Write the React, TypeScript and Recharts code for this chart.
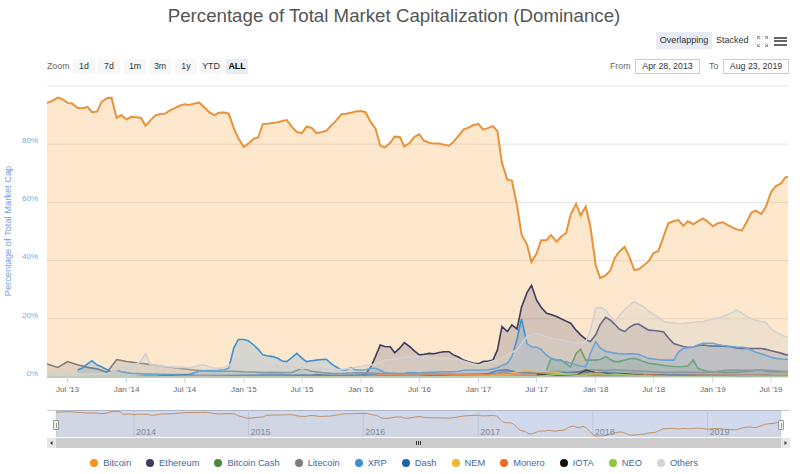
import React from "react";
import { Area, CartesianGrid, ComposedChart, XAxis, YAxis } from "recharts";

const FONT = '"Liberation Sans", Arial, Helvetica, sans-serif';

const firstDay = "2013-04-28";
const lastDay = "2019-08-23";

const axisTickDates = [
  "2013-07-01", "2014-01-01", "2014-07-01", "2015-01-01", "2015-07-01",
  "2016-01-01", "2016-07-01", "2017-01-01", "2017-07-01", "2018-01-01",
  "2018-07-01", "2019-01-01", "2019-07-01",
];
const axisTickLabels = [
  "Jul '13", "Jan '14", "Jul '14", "Jan '15", "Jul '15", "Jan '16", "Jul '16",
  "Jan '17", "Jul '17", "Jan '18", "Jul '18", "Jan '19", "Jul '19",
];
const navTickDates = ["2014-01-01", "2015-01-01", "2016-01-01", "2017-01-01", "2018-01-01", "2019-01-01"];
const navTickLabels = ["2014", "2015", "2016", "2017", "2018", "2019"];
const yTicks = [0, 20, 40, 60, 80, 100];
const zoomButtons = ["1d", "7d", "1m", "3m", "1y", "YTD", "ALL"];

// values, 1st and 15th of each month (May '13 .. Aug '19) + last day
const bitcoin = [
  94.2, 95, 96, 95.5, 94.2, 94.0, 92.5, 92.3, 92.8, 91, 91.2, 94.5, 95.8, 96, 89, 90,
  88.5, 89.4, 89.3, 89, 86.3, 88, 90, 90.3, 90.5, 91.5, 92.5, 93.2, 93.7, 93.5, 94, 94.3, 92.5, 91, 90, 90.8, 90.9, 90.5, 85.5, 82,
  79, 80.2, 81.9, 82.3, 86.9, 87, 87.3, 87.5, 88, 88.3, 85.8, 84.2, 83.8, 86, 85.6, 83.8, 84.2, 84.6, 86.5, 88, 90.3, 90.5, 90.8, 91.2,
  91.4, 91, 87.5, 85.4, 79.5, 78.8, 80.5, 82.6, 82.5, 79.2, 80.5, 82.5, 83.4, 81.2, 80.5, 80.2, 80.2, 79.8, 79.5, 80.8, 83, 85, 85.7, 86.5,
  87, 85, 85.6, 86.2, 84.5, 73.5, 67.8, 67.5, 59, 49, 45.5, 39.5, 42.5, 47, 47, 48.8, 46.5, 48.2, 49.5, 55.8, 59.5, 55.5, 58.5, 52,
  38.5, 34, 34.9, 36.5, 40.8, 43, 44.7, 41.5, 36.8, 37, 38.5, 39.8, 42.7, 43.2, 48.5, 52.8, 53.5, 54, 52, 53.5, 52.5, 53.5, 54.5, 53.5,
  51.8, 52.8, 53.2, 52.3, 51.5, 50.8, 50.3, 53, 56.5, 57.2, 56, 58.5, 63.5, 65.5, 66.5, 68.6,
  68.8,
];

// semi-monthly from Aug 1 '15
const ethereumStart = 54;
const ethereum = [
  0.5, 0.8, 0.7, 0.6, 0.5, 0.5, 0.4, 0.5, 0.5, 0.5,
  0.7, 1.0, 3.5, 7, 11, 10.5, 10.4, 8.3, 10, 11.8, 10.4, 9, 7.6, 7.8, 8.1, 8.0, 8.4, 8.7, 8.7, 7.6, 6.8, 5.8, 5.2, 4.8,
  4.5, 5.3, 5.5, 5.8, 9.3, 17.3, 15.6, 17.9, 16.5, 24, 29, 31.5, 26.4, 24, 21.9, 21.5, 20.8, 20, 19.2, 18.5, 16.1, 14.5, 13, 12.1,
  14.5, 18, 20.5, 19.6, 18.2, 16.5, 15.6, 17, 18, 18.2, 17, 16.1, 16, 15.8, 15.5, 13.5, 11.5, 11, 10.5, 10.2, 10.3, 10.8, 11, 10.8,
  10.6, 10.6, 10.6, 10.5, 10.3, 10, 9.8, 9.9, 9.8, 9.8, 9.8, 9.5, 9, 8.7, 8.2, 7.7,
  7.6,
];

// semi-monthly from Aug 1 '17
const bitcoinCashStart = 102;
const bitcoinCash = [
  2.4, 6.4, 5.8, 5.8, 4.5, 3.5, 8.1, 9.5, 5.8, 5.8,
  5.8, 6.0, 7.0, 6.0, 5.3, 5.3, 5.8, 6.2, 6.4, 6.0, 5.2, 4.7, 4.5, 4.3, 4.0, 3.8, 3.6, 3.5, 3.6, 3.8, 5.8, 3.0, 2.4, 2.0,
  1.8, 1.8, 1.6, 1.6, 1.6, 1.6, 1.8, 2.0, 2.1, 2.3, 2.3, 2.1, 1.8, 1.8, 1.8, 1.8,
  1.8,
];

// semi-monthly from Aug 1 '13
const xrpStart = 6;
const xrp = [
  2.4, 3.0, 4.5, 5.6, 4.1, 3.5, 2.5, 1.5, 2.4, 1.8,
  1.5, 1.3, 1.2, 1.1, 1.0, 1.0, 1.0, 0.9, 0.9, 0.8, 0.8, 0.8, 0.8, 0.9, 1.5, 2.0, 2.2, 2.2, 2.2, 2.3, 2.5, 3, 10, 12.9,
  12.9, 12.5, 11, 9.5, 7.6, 7.3, 7.0, 6.5, 5.5, 5.3, 6.8, 8.1, 6.5, 5.3, 5.6, 5.8, 6.0, 6.1, 4.5, 3.5, 2.4, 2.3, 3.2, 2.4,
  2.4, 2.5, 3.0, 3.0, 2.3, 1.5, 1.3, 1.3, 1.2, 1.3, 1.5, 1.5, 1.4, 1.5, 1.6, 1.6, 1.7, 1.8, 1.8, 1.8, 2.0, 2.3, 2.4, 2.4,
  2.3, 2.4, 2.5, 2.8, 3.2, 4.0, 4.7, 7.0, 13, 20, 11.5, 10.4, 10.2, 9.5, 7.5, 6.4, 5.8, 5.5, 5.2, 4.8, 4.1, 3.8, 3.5, 8,
  12.1, 10, 8.8, 8.5, 8.2, 8.0, 7.9, 8.0, 7.9, 7.8, 7.0, 6.4, 6.2, 6.0, 5.8, 5.8, 5.8, 8.5, 9.8, 10.0, 10.2, 11, 11.6, 11.6,
  11.6, 11.2, 10.8, 10.6, 10.5, 10.3, 10.2, 10.0, 9.2, 8.5, 8.0, 7.5, 6.8, 6.4, 6.2, 6.1,
  6.0,
];

// semi-monthly, whole range
const others = [
  1.2, 1.0, 1.0, 1.0, 1.0, 0.9, 0.9, 0.9, 0.9, 1.0, 1.0, 1.0, 1.2, 1.5, 2.5, 3.5,
  3.5, 4.0, 4.5, 5.5, 8.1, 4.3, 4.0, 3.8, 3.5, 3.5, 3.4, 3.3, 3.3, 3.2, 3.5, 4.0, 4.1, 3.5, 3.0, 3.0, 3.2, 4.0, 5.0, 5.8,
  5.5, 5.3, 5.0, 4.8, 4.5, 4.3, 4.1, 4.0, 3.8, 3.6, 3.4, 3.2, 3.0, 3.0, 2.9, 2.8, 2.7, 2.7, 2.6, 2.6, 2.6, 2.8, 3.0, 3.3,
  3.6, 4.0, 4.1, 4.5, 5.2, 5.8, 6.0, 6.2, 6.5, 6.8, 7.0, 7.0, 7.0, 6.8, 6.6, 6.5, 6.4, 6.4, 6.3, 6.2, 6.0, 5.5, 5.0, 4.5,
  4.1, 4.5, 5.0, 5.5, 5.8, 6.5, 7.5, 8.5, 9.3, 11.5, 14.0, 14.5, 15.0, 14.5, 13.8, 13.3, 13.0, 12.8, 12.4, 12.0, 11.6, 11.8, 12.1, 16,
  23.5, 24, 23.0, 21, 19.0, 21, 23.2, 24.5, 25.9, 25, 24, 22.6, 21.5, 20.5, 19.0, 18.8, 18.6, 18.4, 18.4, 18.6, 18.8, 19.0, 19.0, 19.5,
  20, 20.3, 20.7, 21.5, 22.2, 23, 22, 21, 20.0, 19.5, 19, 18.8, 16.5, 15.5, 14.5, 13.8,
  13.6,
];

// monthly (1st of month), last value = last day
const litecoin = [
  4.5, 3.3, 5.3, 4.2, 3.3, 2.8, 1.6, 6.0,
  5.3, 4.9, 4.5, 4.0, 3.5, 3.2, 2.8, 2.4, 2.1, 1.9, 2.0, 2.0,
  1.8, 1.7, 1.5, 1.6, 1.5, 1.6, 3.0, 2.0, 1.5, 1.3, 1.2, 1.4,
  1.5, 1.4, 1.2, 1.2, 1.1, 1.2, 1.1, 1.0, 1.0, 1.0, 0.9, 0.9,
  1.0, 1.0, 1.3, 2.0, 1.8, 1.7, 1.6, 1.8, 2.0, 1.6, 1.5, 2.5,
  2.4, 2.2, 2.5, 2.3, 2.1, 2.0, 1.8, 1.6, 1.6, 1.7, 1.6, 1.6,
  1.7, 2.2, 2.4, 2.3, 2.3, 2.4, 2.2, 2.0,
  2.0,
];

const dashStartMonth = 9;
const dash = [
  0.2, 0.3, 0.3, 0.5, 0.5, 0.8, 0.6, 0.5, 0.5, 0.5, 0.5,
  0.6, 0.6, 0.7, 0.7, 0.7, 0.6, 0.7, 0.6, 0.5, 0.5, 0.5, 0.6,
  0.6, 0.7, 0.7, 0.5, 0.5, 0.5, 0.5, 0.5, 0.6, 0.7, 0.8, 0.9,
  0.9, 1.2, 2.2, 2.5, 1.6, 1.4, 1.4, 1.5, 1.5, 1.5, 1.8, 1.8,
  1.5, 1.5, 1.4, 1.1, 1.1, 0.9, 0.8, 0.7, 0.8, 0.8, 0.7, 0.7,
  0.6, 0.6, 0.6, 0.6, 0.6, 0.6, 0.5, 0.4,
  0.4,
];

const nemStartMonth = 40;
const nem = [
  0.1, 0.1, 0.1, 0.1,
  0.2, 0.2, 0.8, 0.9, 1.8, 2.2, 1.8, 1.8, 1.6, 1.0, 1.0, 1.0,
  1.8, 1.0, 0.8, 0.8, 0.6, 0.5, 0.5, 0.4, 0.4, 0.4, 0.3, 0.3,
  0.3, 0.3, 0.3, 0.3, 0.3, 0.3, 0.2, 0.2,
  0.2,
];

const moneroStartMonth = 13;
const monero = [
  0.3, 0.3, 0.4, 0.5, 0.4, 0.4, 0.3,
  0.3, 0.3, 0.3, 0.3, 0.2, 0.2, 0.2, 0.2, 0.2, 0.2, 0.2, 0.2,
  0.3, 0.4, 0.8, 0.7, 0.7, 0.6, 0.7, 1.0, 1.0, 0.8, 0.8, 0.8,
  0.9, 0.8, 1.1, 1.3, 0.7, 0.6, 0.6, 0.8, 0.8, 0.8, 0.8, 0.8,
  0.9, 0.9, 1.2, 1.0, 1.3, 0.9, 0.7, 0.5, 0.5, 0.5, 0.6, 0.6,
  0.6, 0.6, 0.6, 0.6, 0.6, 0.6, 0.5, 0.5,
  0.5,
];

const iotaStartMonth = 50;
const iota = [
  1.0, 0.8, 0.7, 0.7, 0.6, 2.4,
  1.5, 1.2, 0.9, 1.1, 0.8, 0.6, 0.5, 0.5, 0.4, 0.4, 0.4, 0.3,
  0.3, 0.3, 0.2, 0.3, 0.2, 0.2, 0.2, 0.2,
  0.2,
];

const neo = [
  0, 0, 0, 0, 0, 0, 0, 0,
  0, 0, 0, 0, 0, 0, 0, 0, 0, 0, 0, 0,
  0, 0, 0, 0, 0, 0, 0, 0, 0, 0, 0, 0,
  0, 0, 0, 0, 0, 0, 0, 0, 0, 0, 0, 0,
  0, 0, 0, 0, 0, 0, 0, 0.5, 1.0, 0.8, 0.6, 0.7,
  1.3, 1.0, 0.9, 0.8, 0.6, 0.5, 0.4, 0.4, 0.3, 0.3, 0.3, 0.3,
  0.3, 0.3, 0.3, 0.4, 0.4, 0.3, 0.3, 0.3,
  0.3,
];

const seriesList = [
  { key: "bitcoin", name: "Bitcoin", color: "#f7931a", line: "#e8923a", width: 2, fill: 0.22 },
  { key: "ethereum", name: "Ethereum", color: "#3c3c62", line: "#3c3c62", width: 1.6, fill: 0.2 },
  { key: "bitcoinCash", name: "Bitcoin Cash", color: "#4a8c3c", line: "#4a8c3c", width: 1.6, fill: 0.2 },
  { key: "litecoin", name: "Litecoin", color: "#7d7d7d", line: "#7d7d7d", width: 1.6, fill: 0.2 },
  { key: "xrp", name: "XRP", color: "#3d92d4", line: "#3d92d4", width: 1.6, fill: 0.2 },
  { key: "dash", name: "Dash", color: "#1f62ab", line: "#1f62ab", width: 1.4, fill: 0.2 },
  { key: "nem", name: "NEM", color: "#f7b52b", line: "#f7b52b", width: 1.4, fill: 0.2 },
  { key: "monero", name: "Monero", color: "#f26822", line: "#f26822", width: 1.4, fill: 0.2 },
  { key: "iota", name: "IOTA", color: "#111111", line: "#111111", width: 1.4, fill: 0.2 },
  { key: "neo", name: "NEO", color: "#8fc63f", line: "#8fc63f", width: 1.4, fill: 0.2 },
  { key: "others", name: "Others", color: "#cfcfcf", line: "#d2d2d2", width: 1.6, fill: 0.3 },
];

const ts = (d: string) => Date.parse(d + "T00:00:00Z");

// x grid: 1st and 15th of every month, first point is the first day
const grid: number[] = [];
for (let y = 2013; y <= 2019; y++) {
  for (let m = 0; m < 12; m++) {
    if ((y === 2013 && m < 4) || (y === 2019 && m > 7)) continue;
    grid.push(Date.UTC(y, m, 1), Date.UTC(y, m, 15));
  }
}
grid[0] = ts(firstDay);
grid.push(ts(lastDay));

type Row = { t: number; [key: string]: number };
const rows: Row[] = grid.map((t) => ({ t }));
const placeSemi = (key: string, start: number, vals: number[]) =>
  vals.forEach((v, j) => {
    rows[start + j][key] = v;
  });
const placeMonthly = (key: string, startMonth: number, vals: number[]) =>
  vals.forEach((v, j) => {
    const i = j === vals.length - 1 ? rows.length - 1 : 2 * (startMonth + j);
    rows[i][key] = v;
  });

placeSemi("bitcoin", 0, bitcoin);
placeSemi("ethereum", ethereumStart, ethereum);
placeSemi("bitcoinCash", bitcoinCashStart, bitcoinCash);
placeSemi("xrp", xrpStart, xrp);
placeSemi("others", 0, others);
placeMonthly("litecoin", 0, litecoin);
placeMonthly("dash", dashStartMonth, dash);
placeMonthly("nem", nemStartMonth, nem);
placeMonthly("monero", moneroStartMonth, monero);
placeMonthly("iota", iotaStartMonth, iota);
placeMonthly("neo", 0, neo);

const axisTicks = axisTickDates.map(ts);
const navTicks = navTickDates.map(ts);
const xDomain = [grid[0], grid[grid.length - 1]];

const abs = (s: React.CSSProperties): React.CSSProperties => ({ position: "absolute", ...s });

function NavTick(props: any) {
  const { x, y, payload } = props;
  const label = navTickLabels[navTicks.indexOf(payload.value)];
  return (
    <text x={x + 2} y={y - 2} fontSize={9} fill="#8c8c8c" fontFamily={FONT}>
      {label}
    </text>
  );
}

export default function App() {
  return (
    <div style={abs({ left: 0, top: 0, width: 800, height: 474, background: "#fff", fontFamily: FONT, overflow: "hidden" })}>
      <div style={abs({ left: 0, top: 6, width: 788, textAlign: "center", fontSize: 18.7, lineHeight: "20px", color: "#555" })}>
        Percentage of Total Market Capitalization (Dominance)
      </div>

      {/* view toggle + icons */}
      <div style={abs({ left: 656, top: 32, width: 56, height: 17, lineHeight: "17px", background: "#e6ebf5", fontSize: 9, color: "#333", textAlign: "center" })}>
        Overlapping
      </div>
      <div style={abs({ left: 716, top: 32, height: 17, lineHeight: "17px", fontSize: 9, color: "#333" })}>Stacked</div>
      <svg style={abs({ left: 757, top: 36 })} width={11} height={11}>
        <g stroke="#999" strokeWidth={1} fill="none">
          <path d="M0.5 3 L0.5 0.5 L3 0.5 M1 1 L3 3" />
          <path d="M8 0.5 L10.5 0.5 L10.5 3 M10 1 L8 3" />
          <path d="M10.5 8 L10.5 10.5 L8 10.5 M10 10 L8 8" />
          <path d="M3 10.5 L0.5 10.5 L0.5 8 M1 10 L3 8" />
        </g>
      </svg>
      {[0, 1, 2].map((i) => (
        <div key={i} style={abs({ left: 774, top: 36.5 + i * 3.5, width: 13, height: 2, background: "#666" })} />
      ))}

      {/* range selector */}
      <div style={abs({ left: 47, top: 59, height: 15, lineHeight: "15px", fontSize: 8.8, color: "#666" })}>Zoom</div>
      {zoomButtons.map((b, i) => {
        const lefts = [73, 98, 124, 149, 175, 200, 226];
        const sel = b === "ALL";
        return (
          <div
            key={b}
            style={abs({
              left: lefts[i], top: 59, width: 22, height: 15, lineHeight: "15px", textAlign: "center",
              fontSize: 8.8, background: sel ? "#e6ebf5" : "#f7f7f7", color: sel ? "#000" : "#333",
              fontWeight: sel ? "bold" : "normal",
            })}
          >
            {b}
          </div>
        );
      })}
      <div style={abs({ left: 610, top: 59, height: 15, lineHeight: "15px", fontSize: 8.8, color: "#666" })}>From</div>
      <div style={abs({ left: 635, top: 59, width: 65, height: 15, lineHeight: "13px", border: "1px solid #ccc", boxSizing: "border-box", textAlign: "center", fontSize: 8.8, color: "#333" })}>
        Apr 28, 2013
      </div>
      <div style={abs({ left: 709, top: 59, height: 15, lineHeight: "15px", fontSize: 8.8, color: "#666" })}>To</div>
      <div style={abs({ left: 723, top: 59, width: 66, height: 15, lineHeight: "13px", border: "1px solid #ccc", boxSizing: "border-box", textAlign: "center", fontSize: 8.8, color: "#333" })}>
        Aug 23, 2019
      </div>

      {/* y axis title */}
      <div style={abs({ left: -92, top: 225, width: 200, height: 12, lineHeight: "12px", textAlign: "center", fontSize: 9.3, color: "#6fa0e0", transform: "rotate(-90deg)" })}>
        Percentage of Total Market Cap
      </div>

      {/* main chart */}
      <div style={abs({ left: 0, top: 0 })}>
        <ComposedChart width={800} height={400} data={rows} margin={{ top: 86, right: 12, bottom: 0, left: 0 }}>
          <CartesianGrid horizontal vertical={false} stroke="#e6e6e6" />
          <XAxis
            dataKey="t"
            type="number"
            domain={xDomain}
            ticks={axisTicks}
            tickFormatter={(v: number) => axisTickLabels[axisTicks.indexOf(v)] ?? ""}
            stroke="#ccd6eb"
            tickSize={6}
            tickMargin={3}
            height={23}
            tick={{ fill: "#666", fontSize: 8, fontFamily: FONT }}
            interval={0}
          />
          <YAxis
            domain={[0, 100]}
            ticks={yTicks}
            width={47}
            axisLine={false}
            tickLine={false}
            tickSize={0}
            tickMargin={9}
            tickFormatter={(v: number) => (v === 100 ? "" : `${v}%`)}
            tick={{ fill: "#7ba7e3", fontSize: 8, fontFamily: FONT, dy: -4 }}
            interval={0}
          />
          {seriesList.map((s) => (
            <Area
              key={s.key}
              type="linear"
              dataKey={s.key}
              name={s.name}
              stroke={s.line}
              strokeWidth={s.width}
              fill={s.color}
              fillOpacity={s.fill}
              dot={false}
              activeDot={false}
              connectNulls
              isAnimationActive={false}
            />
          ))}
        </ComposedChart>
      </div>

      {/* navigator */}
      <div style={abs({ left: 47, top: 410, width: 743, height: 0, borderTop: "1px solid #cccccc" })} />
      <div style={abs({ left: 0, top: 404 })}>
        <ComposedChart width={800} height={45} data={rows} margin={{ top: 6, right: 19, bottom: 0, left: 56 }}>
          <CartesianGrid horizontal={false} vertical stroke="#e6e6e6" />
          <XAxis
            dataKey="t"
            type="number"
            domain={xDomain}
            ticks={navTicks}
            axisLine={false}
            tickLine={false}
            tickSize={0}
            tickMargin={0}
            height={12}
            tick={<NavTick />}
            interval={0}
          />
          <YAxis hide domain={[32, 100]} allowDataOverflow />
          <Area
            type="monotone"
            dataKey="bitcoin"
            stroke="#e8923a"
            strokeWidth={1}
            fill="#f7931a"
            fillOpacity={0.05}
            dot={false}
            activeDot={false}
            isAnimationActive={false}
          />
        </ComposedChart>
      </div>
      <div style={abs({ left: 56, top: 410, width: 725, height: 27, background: "rgba(102,133,194,0.3)" })} />
      {[56, 781].map((x) => (
        <div key={x} style={abs({ left: x - 3, top: 420, width: 6, height: 10, background: "#f2f2f2", border: "1px solid #999", borderRadius: 1, boxSizing: "border-box" })}>
          <div style={abs({ left: 1.5, top: 2, width: 1, height: 5, background: "#999" })} />
        </div>
      ))}

      {/* scrollbar */}
      <div style={abs({ left: 47, top: 438, width: 743, height: 10, background: "#f2f2f2" })} />
      <div style={abs({ left: 56, top: 438, width: 725, height: 10, background: "#cccccc" })} />
      <div style={abs({ left: 47, top: 438, width: 9, height: 10, background: "#e6e6e6" })}>
        <svg width={9} height={10} style={{ display: "block" }}>
          <path d="M5.5 3 L3 5 L5.5 7 Z" fill="#333" />
        </svg>
      </div>
      <div style={abs({ left: 781, top: 438, width: 9, height: 10, background: "#e6e6e6" })}>
        <svg width={9} height={10} style={{ display: "block" }}>
          <path d="M3.5 3 L6 5 L3.5 7 Z" fill="#333" />
        </svg>
      </div>
      {[-2, 0, 2].map((d) => (
        <div key={d} style={abs({ left: 418 + d, top: 441, width: 1, height: 4, background: "#333" })} />
      ))}

      {/* legend */}
      <div style={abs({ left: 0, top: 457, width: 788, height: 12, display: "flex", justifyContent: "center", alignItems: "center" })}>
        {seriesList.map((s, i) => (
          <div key={s.key} style={{ display: "flex", alignItems: "center", marginLeft: i === 0 ? 0 : 15 }}>
            <span style={{ width: 8, height: 8, borderRadius: 4, background: s.color === "#cfcfcf" ? "#d4d4d4" : s.color, marginRight: 5, display: "inline-block" }} />
            <span style={{ fontSize: 9.3, color: "#44679f", lineHeight: "12px", whiteSpace: "nowrap" }}>{s.name}</span>
          </div>
        ))}
      </div>
    </div>
  );
}
